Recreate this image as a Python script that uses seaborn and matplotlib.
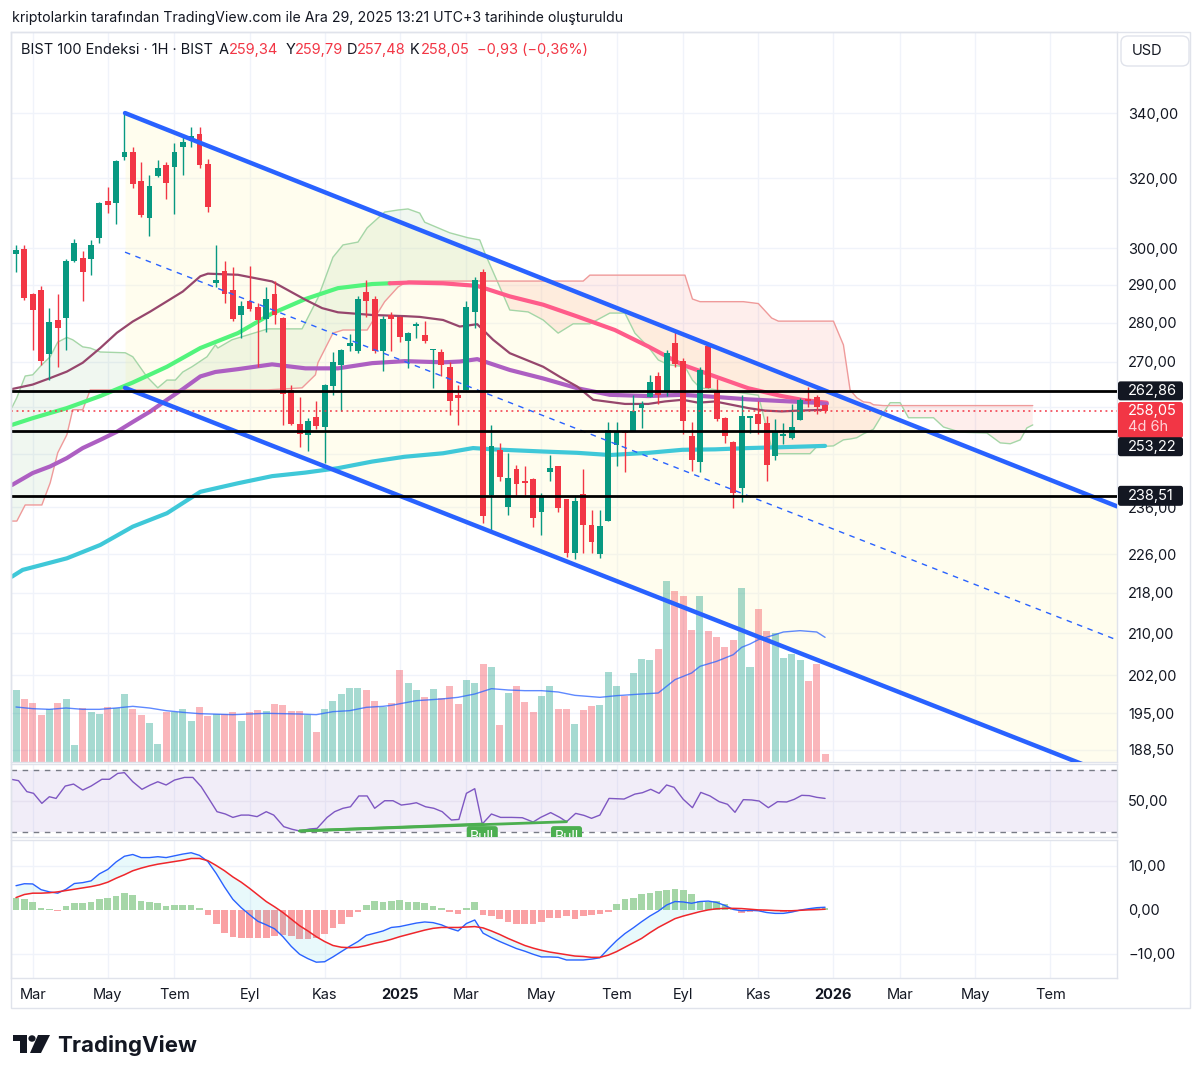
import numpy as np
import pandas as pd
import matplotlib
matplotlib.use("Agg")
import matplotlib.pyplot as plt
import matplotlib.transforms as mtransforms
from matplotlib.patches import FancyBboxPatch, Polygon, Circle, Rectangle
from matplotlib.ticker import FixedLocator, FuncFormatter, NullLocator
import seaborn as sns

sns.set_style("white")
plt.rcParams["font.family"] = ["Inter", "DejaVu Sans"]

# ---------------- data (weekly bars, BIST 100 in USD) ----------------
start_date = "2024-02-19"
opens = [298.3, 299.7, 287.5, 288.6, 272.0, 280.7, 281.1, 296.5, 297.3, 297.0,
         302.9, 313.5, 312.7, 326.4, 328.0, 319.3, 308.6, 320.8, 323.9, 323.4,
         329.4, 331.6, 333.4, 324.3, 290.4, 293.7, 288.6, 282.0, 285.7, 284.1,
         280.9, 287.5, 281.1, 263.1, 254.8, 252.3, 256.6, 254.3, 264.1, 269.3,
         273.9, 272.8, 288.2, 286.2, 272.8, 282.0, 281.5, 275.4, 279.2, 276.8,
         273.0, 272.6, 268.8, 261.9, 263.1, 282.7, 293.4, 238.6, 248.9, 236.1,
         244.5, 241.9, 242.3, 235.0, 243.9, 245.1, 237.8, 226.2, 239.0, 232.2,
         226.1, 233.1, 250.0, 253.3, 253.3, 258.7, 261.3, 266.5, 262.5, 274.9,
         270.3, 252.0, 246.0, 273.9, 262.5, 256.3, 250.8, 240.3, 256.3, 257.4,
         255.2, 247.4, 252.2, 251.7, 255.9, 260.8, 261.4, 259.34]
highs = [301.0, 300.9, 287.7, 289.7, 283.8, 287.5, 297.0, 302.7, 299.3, 302.3,
         313.2, 317.4, 325.5, 340.0, 329.6, 324.9, 321.1, 325.5, 324.9, 330.8,
         332.7, 335.5, 335.5, 325.7, 300.8, 296.5, 294.7, 285.6, 295.1, 285.2,
         289.3, 291.0, 281.5, 264.3, 261.4, 256.3, 260.3, 264.5, 272.6, 273.2,
         277.2, 286.9, 291.2, 287.0, 281.8, 282.7, 281.7, 277.7, 280.3, 280.5,
         273.3, 273.2, 270.1, 264.3, 285.6, 292.0, 294.3, 254.6, 250.4, 248.1,
         245.4, 245.2, 242.5, 239.2, 247.7, 245.3, 237.8, 238.5, 244.5, 235.4,
         235.4, 255.5, 255.3, 253.5, 261.9, 260.4, 266.8, 267.6, 273.0, 278.1,
         271.0, 255.5, 268.7, 274.2, 265.7, 256.5, 251.0, 261.9, 256.8, 260.3,
         256.8, 256.0, 255.1, 259.7, 261.1, 263.7, 261.9, 259.79]
lows = [293.5, 286.0, 273.0, 269.2, 265.5, 268.8, 273.0, 296.2, 285.6, 292.7,
        301.5, 309.8, 306.8, 325.5, 317.1, 308.8, 303.4, 320.4, 313.9, 309.6,
        321.0, 329.4, 323.0, 310.1, 289.5, 285.2, 280.5, 276.0, 283.0, 268.8,
        277.7, 279.6, 254.6, 254.6, 249.5, 248.7, 253.8, 245.8, 261.9, 257.9,
        272.8, 272.2, 281.5, 272.2, 267.8, 272.8, 275.0, 268.4, 276.0, 274.8,
        263.5, 266.5, 257.1, 254.6, 263.1, 278.7, 232.6, 231.1, 241.8, 234.3,
        238.7, 238.7, 231.7, 230.0, 241.7, 235.0, 225.4, 225.0, 226.2, 226.3,
        225.2, 233.1, 245.1, 243.9, 253.3, 253.9, 261.3, 259.7, 261.5, 268.8,
        252.6, 244.1, 243.9, 263.5, 255.7, 250.4, 235.8, 237.2, 252.7, 252.6,
        241.7, 246.6, 250.3, 251.3, 255.9, 258.9, 257.4, 257.48]
closes = [299.5, 286.4, 283.3, 270.3, 280.3, 278.5, 296.5, 301.5, 293.5, 301.0,
          312.9, 312.2, 325.2, 327.9, 318.4, 309.3, 317.8, 323.2, 318.8, 327.9,
          331.1, 332.8, 324.0, 311.8, 291.3, 287.5, 280.9, 284.4, 283.5, 280.7,
          286.2, 282.0, 262.0, 254.8, 252.6, 255.7, 254.5, 264.3, 269.9, 273.0,
          274.7, 286.2, 285.7, 272.8, 280.9, 280.9, 276.2, 277.4, 279.7, 275.4,
          273.3, 269.3, 260.4, 261.1, 284.0, 291.2, 234.2, 249.8, 242.7, 242.5,
          241.2, 241.4, 233.6, 238.5, 244.8, 235.8, 226.2, 237.4, 232.2, 228.6,
          232.0, 253.5, 253.3, 252.8, 258.0, 259.7, 265.0, 261.9, 272.3, 269.5,
          255.7, 246.6, 268.0, 263.6, 256.0, 252.0, 239.2, 256.8, 256.7, 254.9,
          245.4, 253.0, 252.4, 254.1, 260.7, 260.4, 258.98, 258.05]
volumes = [217, 188, 176, 140, 160, 176, 188, 50, 161, 149,
           143, 164, 161, 203, 158, 140, 116, 55, 149, 149,
           160, 122, 164, 137, 144, 144, 150, 122, 150, 155,
           152, 173, 172, 152, 152, 142, 90, 160, 184, 203,
           223, 223, 217, 182, 166, 176, 276, 238, 216, 194,
           220, 192, 227, 173, 245, 236, 295, 285, 110, 207,
           229, 181, 150, 197, 227, 158, 158, 113, 155, 167,
           172, 270, 229, 199, 268, 308, 307, 339, 544, 512,
           499, 396, 497, 394, 376, 346, 365, 522, 284, 458,
           392, 387, 312, 324, 305, 242, 294, 24]
vol_ma_w = [0, 2, 4, 6, 8, 10, 12, 14, 16, 18, 20, 22, 26, 30, 34, 36, 38, 40, 42, 44,
            45, 48, 51, 53, 55, 57, 59, 61, 63, 65, 67, 70, 72, 75, 77, 78, 79, 81, 82, 84,
            86, 87, 88, 89, 91, 92, 94, 96, 97]
vol_ma = [165, 160, 158, 162, 158, 158, 162, 167, 162, 154, 149, 145, 142, 146, 144, 142, 151, 154, 164, 167,
          170, 184, 189, 194, 204, 220, 216, 214, 214, 210, 200, 194, 199, 204, 207, 227, 247, 267, 287, 302,
          322, 344, 354, 367, 382, 390, 394, 390, 374]

# moving averages
ma_fast_w = [-0.5, 2.0, 4.1, 6.1, 8.0, 10.1, 12.1, 14.0, 16.1, 18.1, 20.0, 22.1, 23.0, 26.6, 30.7,
             34.7, 36.7, 38.6, 42.7, 46.6, 48.4, 51.2, 53.2, 55.3, 57.2, 59.2, 63.2, 65.2, 67.3,
             69.2, 73.0, 75.8, 77.8, 79.9, 81.8, 83.8, 87.8, 89.8, 91.8, 93.8, 97.2]
ma_fast = [263.3, 264.4, 266.0, 267.6, 269.8, 273.5, 277.4, 280.3, 282.9, 285.6, 288.2, 292.3, 293.0,
           292.7, 290.9, 286.0, 283.8, 282.7, 282.0, 281.7, 281.5, 280.7, 279.0, 279.6, 275.6, 272.2,
           268.8, 266.3, 263.9, 260.7, 259.7, 259.7, 260.3, 260.7, 260.0, 260.3, 258.7, 258.1, 257.9,
           258.1, 258.3]
ma_mid_w = [-0.5, 2.0, 4.1, 6.1, 8.0, 10.1, 12.1, 14.0, 16.1, 18.1, 20.0, 22.1, 23.9, 26.6, 30.7,
            34.7, 38.6, 42.7, 46.6, 51.2, 53.2, 55.3, 59.2, 63.2, 67.3, 71.2, 75.8, 79.9, 83.8,
            87.8, 91.8, 95.8, 97.2]
ma_mid = [240.9, 243.6, 245.1, 247.0, 249.3, 251.2, 253.1, 255.4, 257.9, 260.7, 263.3, 266.4, 267.5,
          268.2, 269.4, 268.4, 268.4, 269.7, 270.2, 269.9, 270.1, 270.7, 268.0, 265.9, 263.5, 261.9,
          261.6, 261.9, 261.4, 260.8, 260.4, 260.0, 259.7]
ma_slow_w = [-0.5, 2.0, 6.1, 10.1, 14.0, 18.1, 22.1, 26.6, 30.7, 34.7, 38.6, 42.7, 44.8, 47.2,
             51.2, 55.3, 59.2, 63.2, 67.3, 71.8, 75.8, 79.9, 83.8, 87.8, 91.8, 94.2, 97.2]
ma_slow = [254.7, 256.3, 258.7, 261.6, 264.9, 268.8, 273.5, 277.3, 282.4, 286.2, 289.1, 290.2, 290.4,
           290.6, 290.4, 289.7, 286.9, 284.7, 281.6, 278.1, 273.9, 269.3, 266.4, 263.5, 261.6, 260.7,
           260.0]
ma_slow_turn = 12   # index where the line turns from rising (green) to falling (pink)
ma_long_w = [-0.5, 0.8, 6.1, 10.1, 14.0, 18.1, 22.1, 26.6, 30.7, 34.7, 38.6, 42.7, 46.6, 51.2,
             54.8, 57.2, 63.2, 67.3, 71.2, 75.8, 79.9, 83.8, 87.8, 91.8, 97.0]
ma_long = [221.3, 222.7, 225.1, 227.9, 231.8, 234.7, 239.4, 241.3, 242.9, 243.7, 244.7, 246.2, 247.3,
           248.1, 249.3, 249.0, 248.5, 248.2, 247.7, 248.2, 248.9, 249.0, 249.3, 249.5, 249.8]

# Ichimoku cloud spans
cloud_w = [-0.5, 0.1, 1.1, 2.0, 3.1, 4.1, 5.0, 6.1, 6.8, 8.0, 8.9, 10.1, 13.1, 14.0, 15.7, 17.0,
           18.1, 19.1, 20.0, 21.1, 22.9, 23.9, 24.2, 25.9, 30.2, 34.3, 35.9, 36.2, 38.0, 39.2,
           41.0, 42.1, 44.2, 45.8, 47.0, 48.4, 49.0, 52.0, 54.2, 55.6, 56.2, 58.0, 59.2, 61.4,
           63.2, 65.0, 66.8, 68.0, 68.8, 71.2, 73.0, 74.2, 75.8, 77.0, 78.2, 80.2, 81.1, 82.0,
           87.2, 89.0, 90.6, 91.4, 95.2, 96.0, 98.0, 99.2, 100.0, 100.8, 101.6, 102.4, 102.8,
           104.0, 104.8, 106.0, 107.0, 110.0, 111.2, 113.2, 116.4, 118.0, 119.2, 120.4, 121.2,
           121.9]
span_a = [258.8, 261.2, 266.5, 266.8, 269.3, 271.3, 275.0, 276.2, 275.6, 273.8, 273.5, 272.5, 272.3,
          271.3, 266.3, 263.6, 265.5, 265.5, 267.5, 268.8, 271.3, 274.3, 273.5, 275.6, 278.4, 278.4,
          285.2, 286.5, 297.5, 300.9, 301.7, 305.7, 310.2, 310.8, 311.1, 309.9, 307.3, 304.3, 302.9,
          302.3, 298.7, 289.4, 283.3, 282.8, 280.7, 277.3, 279.7, 279.7, 279.7, 282.5, 282.5, 277.3,
          273.8, 270.5, 269.3, 268.8, 265.5, 263.6, 262.3, 261.8, 249.3, 248.0, 248.0, 249.6, 249.8,
          251.2, 251.4, 251.7, 252.6, 253.3, 253.7, 257.6, 260.0, 260.0, 256.4, 256.4, 254.2, 253.0,
          252.8, 250.5, 250.3, 251.2, 254.0, 254.7]
span_b = [233.0, 233.0, 236.5, 236.5, 236.5, 241.4, 248.2, 252.4, 258.3, 258.3, 263.1, 263.1, 263.1,
          263.1, 263.1, 263.1, 263.1, 263.1, 263.1, 263.1, 263.1, 263.1, 263.1, 263.1, 263.1, 263.6,
          266.8, 269.8, 277.3, 278.1, 278.1, 278.1, 285.5, 289.4, 291.0, 291.0, 291.0, 291.0, 291.0,
          291.0, 291.0, 291.0, 291.0, 291.0, 291.0, 291.0, 291.0, 291.0, 292.6, 292.6, 292.6, 292.6,
          292.6, 292.6, 292.6, 292.6, 286.2, 285.5, 285.5, 285.0, 281.2, 280.4, 280.4, 280.4, 280.4,
          274.3, 263.1, 261.2, 260.2, 260.0, 259.5, 259.3, 259.3, 259.3, 259.3, 259.3, 259.3, 259.3,
          259.3, 259.3, 259.3, 259.3, 259.3, 259.3]

# drawings: descending channel (week, price) and horizontal levels
chan_w = [13.07, 132.0]
chan_upper = [340.0, 236.2]
chan_mid = [298.9, 208.7]
chan_lower = [263.6, 183.7]
levels = [262.86, 253.22, 238.51]
last_price = 258.05
bar_timer = "4d 6h"

# RSI
rsi_w = [-0.5, 0.3, 1.3, 2.1, 3.1, 4.0, 4.8, 5.9, 6.9, 8.0, 9.0, 10.3, 11.2, 12.2, 13.0, 14.0, 15.1,
         16.1, 17.0, 18.0, 19.0, 20.2, 21.2, 22.2, 23.1, 24.1, 25.1, 26.0, 27.0, 27.9, 28.9, 30.0,
         30.9, 32.1, 33.1, 34.0, 35.2, 36.1, 37.3, 38.2, 39.2, 40.1, 41.1, 42.1, 43.0, 44.2, 45.2,
         46.2, 47.2, 48.0, 49.1, 50.1, 51.1, 52.2, 53.1, 54.0, 55.0, 55.9, 57.0, 58.1, 59.4, 60.7,
         62.0, 62.9, 64.1, 65.2, 66.0, 67.1, 68.1, 69.0, 70.0, 71.1, 72.9, 74.2, 75.1, 76.1, 77.1,
         78.0, 78.9, 80.0, 81.1, 82.1, 83.2, 84.3, 85.3, 86.2, 87.2, 88.2, 89.1, 90.2, 91.3, 92.4,
         93.3, 94.2, 95.1, 96.0, 97.0]
rsi_v = [63.9, 63.1, 56.0, 54.9, 48.4, 52.7, 51.6, 59.6, 60.9, 57.0, 59.6, 64.0, 64.0, 67.8, 68.3,
         62.4, 57.5, 60.3, 62.4, 60.3, 63.5, 65.2, 65.2, 59.2, 51.6, 43.0, 41.5, 39.3, 40.8, 40.8,
         39.8, 43.0, 40.8, 33.3, 31.6, 30.5, 31.8, 32.2, 39.3, 43.0, 45.2, 46.2, 53.2, 53.2, 45.2,
         50.1, 50.1, 47.3, 48.0, 48.8, 46.2, 45.2, 43.0, 37.6, 38.0, 54.9, 57.9, 35.0, 41.5, 39.3,
         39.3, 39.1, 36.3, 39.3, 42.4, 39.3, 36.5, 41.9, 40.6, 38.7, 40.8, 51.6, 51.2, 54.4, 55.3,
         57.5, 54.9, 60.3, 58.8, 51.0, 45.6, 55.5, 53.2, 49.5, 47.8, 42.6, 50.8, 50.6, 49.9, 45.6,
         49.5, 49.3, 51.0, 53.6, 53.4, 52.3, 51.6]
div_w = [[34.0, 55.9], [34.0, 66.0]]
div_v = [[30.5, 35.0], [30.5, 36.5]]
bull_w = [55.9, 66.0]

# MACD
macd = [5.5, 5.95, 5.9, 4.6, 4.1, 3.8, 4.7, 6.0, 6.2, 6.6, 8.2, 9.2, 10.9, 12.2, 12.6, 11.9, 11.9,
        12.1, 11.9, 12.3, 12.7, 13.0, 12.4, 11.0, 8.3, 5.2, 2.4, 0.5, -1.1, -2.6, -3.4, -4.3, -6.1,
        -8.3, -10.1, -11.1, -11.9, -11.8, -10.7, -9.5, -8.3, -7.2, -5.8, -5.3, -4.8, -4.0, -3.8,
        -3.4, -3.0, -2.75, -2.9, -3.4, -4.2, -4.8, -3.1, -2.3, -5.3, -6.3, -7.2, -8.0, -8.8, -9.4,
        -10.1, -10.7, -10.7, -10.8, -11.4, -11.4, -11.4, -11.2, -10.9, -8.9, -7.0, -5.4, -4.1,
        -2.7, -1.4, -0.3, 1.1, 1.9, 1.8, 1.5, 1.9, 2.0, 1.7, 1.0, 0.1, -0.2, -0.1, -0.2, -0.6,
        -0.8, -0.8, -0.5, -0.05, 0.25, 0.5, 0.6]
signal = [2.8, 3.5, 3.8, 3.8, 3.9, 4.1, 4.4, 4.7, 5.0, 5.3, 5.7, 6.3, 7.2, 8.0, 8.9, 9.5, 10.0,
          10.4, 10.7, 11.0, 11.3, 11.7, 11.7, 11.2, 10.1, 8.9, 7.5, 6.3, 4.9, 3.4, 1.9, 0.7, -0.6,
          -2.1, -3.6, -4.8, -6.1, -7.2, -8.1, -8.5, -8.6, -8.5, -8.1, -7.6, -7.2, -6.7, -6.1, -5.6,
          -5.1, -4.6, -4.2, -4.0, -4.0, -4.0, -3.9, -3.8, -4.1, -4.8, -5.6, -6.5, -7.3, -8.1, -8.7,
          -9.2, -9.6, -9.9, -10.2, -10.5, -10.6, -10.8, -10.8, -10.3, -9.5, -8.5, -7.5, -6.5,
          -5.2, -4.0, -3.0, -2.0, -1.4, -0.9, -0.4, 0.0, 0.25, 0.35, 0.35, 0.3, 0.15, 0.0, -0.05,
          -0.15, -0.2, -0.2, -0.1, 0.0, 0.05, 0.15]
hist = [2.8, 2.4, 1.7, 0.5, 0.3, -0.2, 0.8, 1.5, 1.5, 1.7, 2.4, 2.7, 3.2, 3.8, 3.3, 2.0, 1.7, 1.5,
        0.9, 1.1, 1.2, 1.1, 0.4, -1.2, -3.3, -5.2, -6.1, -6.5, -6.5, -6.4, -6.4, -5.9, -5.8, -5.9,
        -6.7, -6.7, -6.3, -5.5, -4.2, -3.3, -1.7, -0.5, 1.1, 2.0, 1.8, 2.0, 2.3, 1.8, 1.7, 1.5,
        0.9, 0.5, -0.5, -1.0, 0.4, 1.7, -1.2, -1.5, -2.1, -2.7, -3.3, -3.3, -3.3, -2.7, -1.9,
        -1.8, -1.5, -2.1, -1.5, -1.2, -1.0, -0.5, 1.3, 2.4, 2.8, 3.6, 3.9, 4.3, 4.5, 4.7, 4.5,
        3.6, 2.0, 1.7, 2.0, 1.3, 0.5, -0.8, -0.5, -0.2, -0.2, -0.2, -0.5, -0.5, 0.0, 0.3, 0.4, 0.5]

price_ticks = [340, 320, 300, 290, 280, 270, 259, 248, 236, 226, 218, 210, 202, 195, 188.5]
hidden_ticks = [259, 248]      # grid lines whose scale labels sit under the level labels
month_starts = ["2024-03-01", "2024-05-01", "2024-07-01", "2024-09-01", "2024-11-01", "2025-01-01",
                "2025-03-01", "2025-05-01", "2025-07-01", "2025-09-01", "2025-11-01", "2026-01-01",
                "2026-03-01", "2026-05-01", "2026-07-01"]
month_labels = ["Mar", "May", "Tem", "Eyl", "Kas", "2025", "Mar", "May", "Tem", "Eyl", "Kas", "2026",
                "Mar", "May", "Tem"]

# ---------------- styling constants ----------------
W, H = 1200, 1080
UP, DOWN = "#089981", "#F23645"
TXT = "#131722"
GRID = "#F0F3FA"
BORDER = "#E0E3EB"
XMIN, XMAX = -0.6, 132.0
VOL_TOP = 2190.0

opens_a, highs_a = np.array(opens), np.array(highs)
lows_a, closes_a = np.array(lows), np.array(closes)
weeks = np.arange(len(closes))
up = closes_a >= opens_a
cols = np.where(up, UP, DOWN)

t0 = pd.Timestamp(start_date)
tick_w = []
for m in month_starts:
    d = pd.Timestamp(m)
    d = d + pd.Timedelta(days=(7 - d.weekday()) % 7)   # first weekly bar of month
    tick_w.append((d - t0).days / 7.0)


def comma(v, nd=2):
    s = f"{abs(v):.{nd}f}".replace(".", ",")
    return ("\u2212" if v < 0 else "") + s


fig = plt.figure(figsize=(W / 100, H / 100), dpi=100)
fig.patch.set_facecolor("white")


def px_axes(x0, y0, x1, y1):
    return fig.add_axes([x0 / W, 1 - y1 / H, (x1 - x0) / W, (y1 - y0) / H])


ax = px_axes(11, 32, 1117, 762)
ax_rsi = px_axes(11, 764, 1117, 837)
ax_macd = px_axes(11, 840, 1117, 978)

for a in (ax, ax_rsi, ax_macd):
    a.set_facecolor("white")
    a.set_xlim(XMIN, XMAX)
    for s in a.spines.values():
        s.set_color(BORDER)
        s.set_linewidth(1)
    for t in tick_w:
        a.axvline(t, color=GRID, lw=1, zorder=0)
    a.tick_params(axis="x", length=0, labelbottom=False)
    a.yaxis.tick_right()
    a.tick_params(axis="y", length=0, pad=8, labelsize=10.5, labelcolor=TXT,
                  labelleft=False, labelright=True)

# ---------------- main price pane ----------------
ax.set_yscale("log")
for p in price_ticks:
    ax.axhline(p, color=GRID, lw=1, zorder=0)

# channel background
ax.fill_between(chan_w, chan_lower, chan_upper, color="#FFF9C4", alpha=0.28, lw=0, zorder=0.6)

# cloud
sa, sb = np.array(span_a), np.array(span_b)
ax.fill_between(cloud_w, sa, sb, where=sa >= sb, interpolate=True, color="#43A047", alpha=0.08,
                lw=0, zorder=0.8)
ax.fill_between(cloud_w, sa, sb, where=sa < sb, interpolate=True, color="#F44336", alpha=0.09,
                lw=0, zorder=0.8)
sns.lineplot(x=cloud_w, y=span_a, ax=ax, color="#A5D6A7", linewidth=1, sort=False,
             estimator=None, legend=False, zorder=0.9)
sns.lineplot(x=cloud_w, y=span_b, ax=ax, color="#EF9A9A", linewidth=1, sort=False,
             estimator=None, legend=False, zorder=0.9)

# volume overlay (bottom of the price pane)
vol_tr = mtransforms.blended_transform_factory(ax.transData, ax.transAxes)
vol_cols = np.where(up, UP, DOWN)
ax.bar(weeks, np.array(volumes) / VOL_TOP, bottom=0, width=0.84, color=vol_cols, alpha=0.36,
       linewidth=0, transform=vol_tr, zorder=1.0)
ax.plot(vol_ma_w, np.array(vol_ma) / VOL_TOP, color="#2962FF", alpha=0.75, lw=1,
        transform=vol_tr, zorder=1.1)

# moving averages
sns.lineplot(x=ma_long_w, y=ma_long, ax=ax, color="#3FC8D8", linewidth=3, sort=False,
             estimator=None, legend=False, zorder=2)
sns.lineplot(x=ma_slow_w[:ma_slow_turn + 1], y=ma_slow[:ma_slow_turn + 1], ax=ax, color="#52F47C",
             linewidth=3, sort=False, estimator=None, legend=False, zorder=2)
sns.lineplot(x=ma_slow_w[ma_slow_turn:], y=ma_slow[ma_slow_turn:], ax=ax, color="#FF5C8A",
             linewidth=3, sort=False, estimator=None, legend=False, zorder=2)
sns.lineplot(x=ma_mid_w, y=ma_mid, ax=ax, color="#AD5FC2", linewidth=3, sort=False,
             estimator=None, legend=False, zorder=2.1)
sns.lineplot(x=ma_fast_w, y=ma_fast, ax=ax, color="#96466C", linewidth=1.6, sort=False,
             estimator=None, legend=False, zorder=2.2)

# candles
ax.vlines(weeks, lows_a, highs_a, colors=cols, lw=1, zorder=3)
body_lo = np.minimum(opens_a, closes_a)
body_h = np.maximum(np.abs(closes_a - opens_a), 0.35)
ax.bar(weeks, body_h, bottom=body_lo, width=0.7, color=cols, linewidth=0, zorder=3.1)

# channel drawing
ax.plot(chan_w, chan_upper, color="#2962FF", lw=3.2, solid_capstyle="round", zorder=6)
ax.plot(chan_w, chan_lower, color="#2962FF", lw=3.2, solid_capstyle="round", zorder=6)
ax.plot(chan_w, chan_mid, color="#2962FF", lw=1, dashes=(4, 4), zorder=6)

# horizontal levels and last price
ax.hlines(levels, XMIN, XMAX, colors="black", lw=2, zorder=7)
ax.axhline(last_price, color=DOWN, lw=1.1, ls=(0, (1.2, 2.4)), zorder=5)

ax.set_ylim(186.4, 366.5)
ax.yaxis.set_major_locator(FixedLocator(price_ticks))
ax.yaxis.set_minor_locator(NullLocator())
ax.yaxis.set_major_formatter(FuncFormatter(
    lambda v, p: "" if any(abs(v - h) < 1e-6 for h in hidden_ticks) else comma(v)))

# ---------------- RSI pane ----------------
ax_rsi.axhspan(30, 70, color="#7E57C2", alpha=0.1, lw=0, zorder=0.5)
ax_rsi.axhline(50, color="#E6E1F0", lw=1, zorder=0.6)
for lv in (70, 30):
    ax_rsi.axhline(lv, color="#787B86", lw=1, dashes=(4, 4), zorder=1)
sns.lineplot(x=rsi_w, y=rsi_v, ax=ax_rsi, color="#7E57C2", linewidth=1, sort=False,
             estimator=None, legend=False, zorder=3)
for dw, dv in zip(div_w, div_v):
    ax_rsi.plot(dw, dv, color="#4CAF50", lw=2, zorder=3.5)
for bw in bull_w:
    ax_rsi.text(bw, 31.4, "Bull", color="white", fontsize=10, ha="center", va="top",
                bbox=dict(boxstyle="round,pad=0.25,rounding_size=0.2", fc="#4CAF50", ec="none"),
                clip_on=True, zorder=4)
ax_rsi.set_ylim(26.6, 73.9)
ax_rsi.set_yticks([50])
ax_rsi.yaxis.set_major_formatter(FuncFormatter(lambda v, p: comma(v)))

# ---------------- MACD pane ----------------
for lv in (10, -10):
    ax_macd.axhline(lv, color=GRID, lw=1, zorder=0)
hist_a = np.array(hist)
hcols = np.where(hist_a >= 0, "#A5D6A7", "#FAA1A4")
ax_macd.bar(weeks, hist_a, width=0.8, color=hcols, linewidth=0, zorder=1)
ma_a, sg_a = np.array(macd), np.array(signal)
ax_macd.fill_between(weeks, ma_a, sg_a, color="#26C6DA", alpha=0.1, lw=0, zorder=1.5)
sns.lineplot(x=weeks, y=macd, ax=ax_macd, color="#2962FF", linewidth=1, sort=False,
             estimator=None, legend=False, zorder=3)
sns.lineplot(x=weeks, y=signal, ax=ax_macd, color="#F0262B", linewidth=1.1, sort=False,
             estimator=None, legend=False, zorder=3)
ax_macd.set_ylim(-15.5, 15.9)
ax_macd.set_yticks([10, 0, -10])
ax_macd.yaxis.set_major_formatter(FuncFormatter(lambda v, p: comma(v)))
ax_macd.set_xticks(tick_w)
ax_macd.set_xticklabels(month_labels)
ax_macd.tick_params(axis="x", labelbottom=True, labelsize=10.5, labelcolor=TXT, pad=7)
for lab in ax_macd.get_xticklabels():
    if lab.get_text().isdigit():
        lab.set_fontweight("bold")

for a in (ax, ax_rsi, ax_macd):
    a.set_xlabel("")
    a.set_ylabel("")
    a.set_xlim(XMIN, XMAX)

# ---------------- price-scale labels ----------------
ident = mtransforms.IdentityTransform()
x_edge = ax.transAxes.transform((1, 0))[0]


def price_box(val, fc, height, center_shift, lines):
    """Label box on the price scale; center_shift (px) moves it off the line when labels crowd."""
    yd = ax.transData.transform((0, val))[1]
    yc = yd + center_shift
    box = FancyBboxPatch((x_edge + 1, yc - height / 2), 65, height,
                         boxstyle="round,pad=0,rounding_size=2.5", fc=fc, ec="none",
                         transform=ident, zorder=10)
    fig.add_artist(box)
    for dy, s, c in lines:
        fig.text(x_edge + 11, yd - dy, s, color=c, fontsize=10.5, va="center", ha="left",
                 transform=ident, zorder=11)


price_box(levels[0], "#131722", 19, 0, [(0, comma(levels[0]), "white")])
price_box(last_price, DOWN, 36, -9.2, [(0, comma(last_price), "white"),
                                        (16.5, bar_timer, "#FFD2D7")])
price_box(levels[1], "#131722", 19, -15.5, [(15.5, comma(levels[1]), "white")])
price_box(levels[2], "#131722", 20, 0, [(0, comma(levels[2]), "white")])

# ---------------- header, frame, logo ----------------
def fx(x):
    return x / W


def fy(y):
    return 1 - y / H


fig.patches.append(Rectangle((fx(11), fy(1008)), (1190 - 11) / W, (1008 - 32) / H, fill=False,
                             ec=BORDER, lw=1, transform=fig.transFigure, zorder=0.5))
fig.text(fx(12), fy(18), "kriptolarkin tarafından TradingView.com ile Ara 29, 2025 13:21 UTC+3 "
         "tarihinde oluşturuldu", fontsize=10.2, color=TXT, va="center", ha="left")

chg = closes[-1] - closes[-2]
pct = chg / closes[-2] * 100
legend_parts = [(21, "BIST 100 Endeksi · 1H · BIST", TXT), (219, "A", TXT),
                (229, comma(opens[-1]), DOWN), (286, "Y", TXT), (295, comma(highs[-1]), DOWN),
                (347, "D", TXT), (357, comma(lows[-1]), DOWN), (410, "K", TXT),
                (421, comma(closes[-1]), DOWN),
                (477, f"{comma(chg)} ({comma(pct)}%)", DOWN)]
for x, s, c in legend_parts:
    fig.text(fx(x), fy(50), s, fontsize=10.5, color=c, va="center", ha="left")

fig.add_artist(FancyBboxPatch((fx(1121), fy(66)), 68 / W, 30 / H,
                              boxstyle="round,pad=0,rounding_size=0.006", fc="white",
                              ec=BORDER, lw=1, transform=fig.transFigure, zorder=8))
fig.text(fx(1147), fy(51), "USD", fontsize=10.5, color=TXT, va="center", ha="center", zorder=9)

# TradingView logo
logo_parts = [
    Polygon([(fx(13), fy(1035)), (fx(27), fy(1035)), (fx(27), fy(1053)), (fx(20), fy(1053)),
             (fx(20), fy(1041)), (fx(13), fy(1041))], closed=True),
    Polygon([(fx(38), fy(1035)), (fx(50), fy(1035)), (fx(41), fy(1053)), (fx(30), fy(1053))],
            closed=True),
]
for pgn in logo_parts:
    pgn.set_facecolor(TXT)
    pgn.set_edgecolor("none")
    pgn.set_transform(fig.transFigure)
    fig.add_artist(pgn)
fig.add_artist(Circle((fx(32), fy(1038.5)), 3.6 / W, fc=TXT, ec="none", transform=fig.transFigure))
fig.text(fx(57), fy(1045), "TradingView", fontsize=16, fontweight="bold", color=TXT,
         va="center", ha="left")

fig.savefig("out.png", dpi=100, facecolor="white")
